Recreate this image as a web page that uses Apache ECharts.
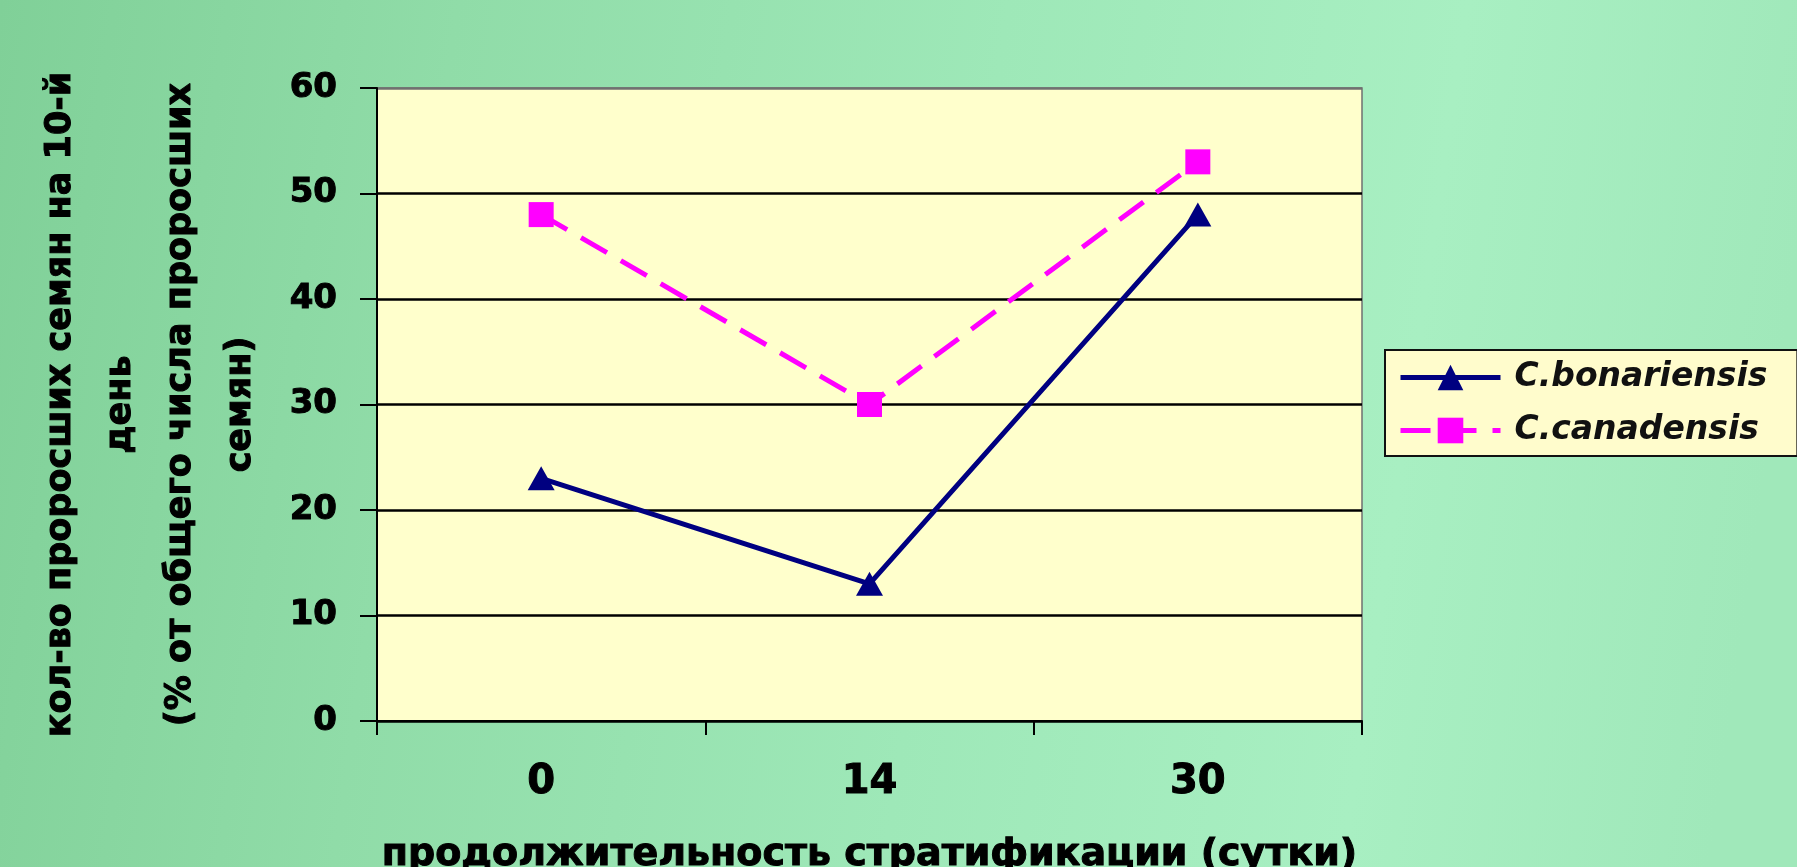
<!DOCTYPE html>
<html>
<head>
<meta charset="utf-8">
<script src="https://cdn.jsdelivr.net/npm/echarts@6/dist/echarts.min.js"></script>
<style>
  html, body { margin: 0; padding: 0; }
  #chart { width: 1797px; height: 867px; }
</style>
</head>
<body>
<div id="chart"></div>
<script>
// Stratification length (days) and share of seeds germinated by day 10
const categories = ['0', '14', '30'];
const bonariensis = [23, 13, 48];
const canadensis = [48, 30, 53];
const seriesNames = ['C.bonariensis', 'C.canadensis'];
const yTicks = { min: 0, max: 60, interval: 10 };
const xTitle = 'продолжительность стратификации (сутки)';
const yTitle = 'кол-во проросших семян на 10-й\nдень\n(% от общего числа проросших\nсемян)';

const chart = echarts.init(document.getElementById('chart'));

const bold = 'DejaVu Sans';
// heavy black lettering for axis texts
const heavy = { color: '#000', textBorderColor: '#000', textBorderWidth: 1 };

chart.setOption({
  backgroundColor: {
    type: 'linear', x: 0, y: 0, x2: 1, y2: 0.3,
    colorStops: [
      { offset: 0, color: '#80d098' },
      { offset: 0.25, color: '#90dca8' },
      { offset: 0.55, color: '#9ee8b8' },
      { offset: 0.8, color: '#a8efc2' },
      { offset: 1, color: '#a0e8ba' }
    ]
  },
  animation: false,
  grid: {
    left: 377, right: 1797 - 1362, top: 88, bottom: 867 - 721,
    outerBoundsMode: 'none',
    containLabel: false,
    show: true,
    backgroundColor: '#ffffcc',
    borderColor: '#707070',
    borderWidth: 1.5
  },
  legend: {
    left: 1385, top: 350,
    orient: 'vertical',
    backgroundColor: '#fffccc',
    borderColor: '#111',
    borderWidth: 2,
    borderRadius: 0,
    padding: [11, 30, 9, 13],
    itemWidth: 100,
    itemHeight: 32,
    itemGap: 20,
    lineStyle: { width: 5, type: 'inherit' },
    textStyle: {
      fontFamily: bold,
      fontStyle: 'italic',
      fontWeight: 'bold',
      fontSize: 33,
      color: '#111',
      padding: [0, 0, 0, 9]
    },
    data: seriesNames
  },
  xAxis: {
    type: 'category',
    data: categories,
    boundaryGap: true,
    name: xTitle,
    nameLocation: 'middle',
    nameGap: 115,
    nameTextStyle: Object.assign({ fontFamily: bold, fontWeight: 'bold', fontSize: 38 }, heavy),
    axisLine: { lineStyle: { color: '#000', width: 2 } },
    axisTick: { show: true, inside: false, length: 14, alignWithLabel: false, lineStyle: { color: '#000', width: 2 } },
    axisLabel: Object.assign({ margin: 42, fontFamily: bold, fontWeight: 'bold', fontSize: 40 }, heavy),
    splitLine: { show: false }
  },
  yAxis: {
    type: 'value',
    min: yTicks.min, max: yTicks.max, interval: yTicks.interval,
    name: yTitle,
    nameLocation: 'middle',
    nameRotate: 90,
    nameGap: 106,
    nameTextStyle: Object.assign({
      fontFamily: bold, fontWeight: 'bold', fontSize: 35, lineHeight: 60, align: 'center'
    }, heavy),
    axisLine: { show: true, lineStyle: { color: '#000', width: 2 } },
    axisTick: { show: true, length: 17, lineStyle: { color: '#000', width: 2 } },
    axisLabel: Object.assign({ margin: 40, fontFamily: bold, fontWeight: 'bold', fontSize: 34 }, heavy),
    splitLine: {
      show: true,
      lineStyle: { color: ['#000', '#000', '#000', '#000', '#000', '#000', '#707070'], width: 2.5 }
    }
  },
  series: [
    {
      name: seriesNames[0],
      type: 'line',
      data: bonariensis,
      symbol: 'triangle',
      symbolSize: [27, 24],
      lineStyle: { color: '#000080', width: 5 },
      itemStyle: { color: '#000080' },
      z: 3
    },
    {
      name: seriesNames[1],
      type: 'line',
      data: canadensis,
      symbol: 'rect',
      symbolSize: 25,
      lineStyle: { color: '#ff00ff', width: 5, type: [30, 16] },
      itemStyle: { color: '#ff00ff' },
      z: 2
    }
  ]
});
</script>
</body>
</html>
